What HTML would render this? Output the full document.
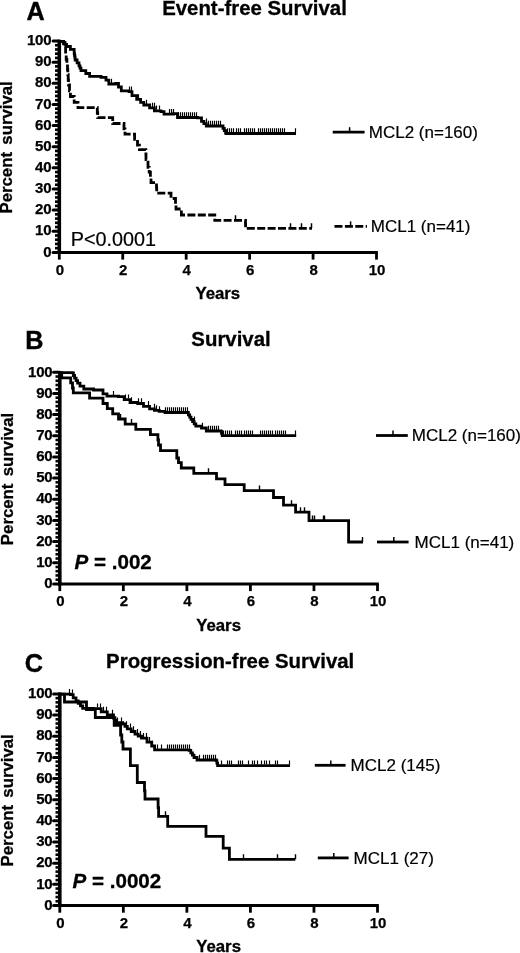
<!DOCTYPE html>
<html><head><meta charset="utf-8"><title>Survival curves</title>
<style>
html,body{margin:0;padding:0;background:#fff;}
body{width:520px;height:953px;overflow:hidden;}
svg{display:block;}
text{font-family:"Liberation Sans", Arial, Helvetica, sans-serif;fill:#000;}
.tk{font-size:15px;font-weight:bold;stroke:#000;stroke-width:0.25px;letter-spacing:-0.25px;}
.ttl{font-size:20.4px;font-weight:bold;stroke:#000;stroke-width:0.3px;}
.pl{font-size:25.2px;font-weight:bold;stroke:#000;stroke-width:0.4px;}
.ax{font-size:16.8px;font-weight:bold;stroke:#000;stroke-width:0.3px;}
.lg{font-size:17px;stroke:#000;stroke-width:0.2px;}
.pv{font-size:19.8px;stroke:#000;stroke-width:0.2px;}
.pvb{font-size:20.6px;font-weight:bold;stroke:#000;stroke-width:0.3px;}
</style></head><body>
<svg width="520" height="953" viewBox="0 0 520 953">
<rect width="520" height="953" fill="#fff"/>

<text x="26.6" y="20.3" class="pl">A</text>
<text x="254.5" y="14.9" text-anchor="middle" class="ttl">Event-free Survival</text>
<line x1="59.3" y1="39.7" x2="59.3" y2="253.9" stroke="#000" stroke-width="3.6"/>
<line x1="57.699999999999996" y1="252.4" x2="377.8" y2="252.4" stroke="#000" stroke-width="3"/>
<line x1="53.099999999999994" y1="252.40" x2="59.3" y2="252.40" stroke="#000" stroke-width="3" stroke-linecap="round"/>
<text x="51.30" y="256.60" text-anchor="end" class="tk">0</text>
<line x1="55.0" y1="248.17" x2="59.3" y2="248.17" stroke="#000" stroke-width="2.6"/>
<line x1="55.0" y1="243.94" x2="59.3" y2="243.94" stroke="#000" stroke-width="2.6"/>
<line x1="55.0" y1="239.72" x2="59.3" y2="239.72" stroke="#000" stroke-width="2.6"/>
<line x1="55.0" y1="235.49" x2="59.3" y2="235.49" stroke="#000" stroke-width="2.6"/>
<line x1="53.099999999999994" y1="231.26" x2="59.3" y2="231.26" stroke="#000" stroke-width="3" stroke-linecap="round"/>
<text x="51.30" y="235.46" text-anchor="end" class="tk">10</text>
<line x1="55.0" y1="227.03" x2="59.3" y2="227.03" stroke="#000" stroke-width="2.6"/>
<line x1="55.0" y1="222.80" x2="59.3" y2="222.80" stroke="#000" stroke-width="2.6"/>
<line x1="55.0" y1="218.58" x2="59.3" y2="218.58" stroke="#000" stroke-width="2.6"/>
<line x1="55.0" y1="214.35" x2="59.3" y2="214.35" stroke="#000" stroke-width="2.6"/>
<line x1="53.099999999999994" y1="210.12" x2="59.3" y2="210.12" stroke="#000" stroke-width="3" stroke-linecap="round"/>
<text x="51.30" y="214.32" text-anchor="end" class="tk">20</text>
<line x1="55.0" y1="205.89" x2="59.3" y2="205.89" stroke="#000" stroke-width="2.6"/>
<line x1="55.0" y1="201.66" x2="59.3" y2="201.66" stroke="#000" stroke-width="2.6"/>
<line x1="55.0" y1="197.44" x2="59.3" y2="197.44" stroke="#000" stroke-width="2.6"/>
<line x1="55.0" y1="193.21" x2="59.3" y2="193.21" stroke="#000" stroke-width="2.6"/>
<line x1="53.099999999999994" y1="188.98" x2="59.3" y2="188.98" stroke="#000" stroke-width="3" stroke-linecap="round"/>
<text x="51.30" y="193.18" text-anchor="end" class="tk">30</text>
<line x1="55.0" y1="184.75" x2="59.3" y2="184.75" stroke="#000" stroke-width="2.6"/>
<line x1="55.0" y1="180.52" x2="59.3" y2="180.52" stroke="#000" stroke-width="2.6"/>
<line x1="55.0" y1="176.30" x2="59.3" y2="176.30" stroke="#000" stroke-width="2.6"/>
<line x1="55.0" y1="172.07" x2="59.3" y2="172.07" stroke="#000" stroke-width="2.6"/>
<line x1="53.099999999999994" y1="167.84" x2="59.3" y2="167.84" stroke="#000" stroke-width="3" stroke-linecap="round"/>
<text x="51.30" y="172.04" text-anchor="end" class="tk">40</text>
<line x1="55.0" y1="163.61" x2="59.3" y2="163.61" stroke="#000" stroke-width="2.6"/>
<line x1="55.0" y1="159.38" x2="59.3" y2="159.38" stroke="#000" stroke-width="2.6"/>
<line x1="55.0" y1="155.16" x2="59.3" y2="155.16" stroke="#000" stroke-width="2.6"/>
<line x1="55.0" y1="150.93" x2="59.3" y2="150.93" stroke="#000" stroke-width="2.6"/>
<line x1="53.099999999999994" y1="146.70" x2="59.3" y2="146.70" stroke="#000" stroke-width="3" stroke-linecap="round"/>
<text x="51.30" y="150.90" text-anchor="end" class="tk">50</text>
<line x1="55.0" y1="142.47" x2="59.3" y2="142.47" stroke="#000" stroke-width="2.6"/>
<line x1="55.0" y1="138.24" x2="59.3" y2="138.24" stroke="#000" stroke-width="2.6"/>
<line x1="55.0" y1="134.02" x2="59.3" y2="134.02" stroke="#000" stroke-width="2.6"/>
<line x1="55.0" y1="129.79" x2="59.3" y2="129.79" stroke="#000" stroke-width="2.6"/>
<line x1="53.099999999999994" y1="125.56" x2="59.3" y2="125.56" stroke="#000" stroke-width="3" stroke-linecap="round"/>
<text x="51.30" y="129.76" text-anchor="end" class="tk">60</text>
<line x1="55.0" y1="121.33" x2="59.3" y2="121.33" stroke="#000" stroke-width="2.6"/>
<line x1="55.0" y1="117.10" x2="59.3" y2="117.10" stroke="#000" stroke-width="2.6"/>
<line x1="55.0" y1="112.88" x2="59.3" y2="112.88" stroke="#000" stroke-width="2.6"/>
<line x1="55.0" y1="108.65" x2="59.3" y2="108.65" stroke="#000" stroke-width="2.6"/>
<line x1="53.099999999999994" y1="104.42" x2="59.3" y2="104.42" stroke="#000" stroke-width="3" stroke-linecap="round"/>
<text x="51.30" y="108.62" text-anchor="end" class="tk">70</text>
<line x1="55.0" y1="100.19" x2="59.3" y2="100.19" stroke="#000" stroke-width="2.6"/>
<line x1="55.0" y1="95.96" x2="59.3" y2="95.96" stroke="#000" stroke-width="2.6"/>
<line x1="55.0" y1="91.74" x2="59.3" y2="91.74" stroke="#000" stroke-width="2.6"/>
<line x1="55.0" y1="87.51" x2="59.3" y2="87.51" stroke="#000" stroke-width="2.6"/>
<line x1="53.099999999999994" y1="83.28" x2="59.3" y2="83.28" stroke="#000" stroke-width="3" stroke-linecap="round"/>
<text x="51.30" y="87.48" text-anchor="end" class="tk">80</text>
<line x1="55.0" y1="79.05" x2="59.3" y2="79.05" stroke="#000" stroke-width="2.6"/>
<line x1="55.0" y1="74.82" x2="59.3" y2="74.82" stroke="#000" stroke-width="2.6"/>
<line x1="55.0" y1="70.60" x2="59.3" y2="70.60" stroke="#000" stroke-width="2.6"/>
<line x1="55.0" y1="66.37" x2="59.3" y2="66.37" stroke="#000" stroke-width="2.6"/>
<line x1="53.099999999999994" y1="62.14" x2="59.3" y2="62.14" stroke="#000" stroke-width="3" stroke-linecap="round"/>
<text x="51.30" y="66.34" text-anchor="end" class="tk">90</text>
<line x1="55.0" y1="57.91" x2="59.3" y2="57.91" stroke="#000" stroke-width="2.6"/>
<line x1="55.0" y1="53.68" x2="59.3" y2="53.68" stroke="#000" stroke-width="2.6"/>
<line x1="55.0" y1="49.46" x2="59.3" y2="49.46" stroke="#000" stroke-width="2.6"/>
<line x1="55.0" y1="45.23" x2="59.3" y2="45.23" stroke="#000" stroke-width="2.6"/>
<line x1="53.099999999999994" y1="41.00" x2="59.3" y2="41.00" stroke="#000" stroke-width="3" stroke-linecap="round"/>
<text x="51.30" y="45.20" text-anchor="end" class="tk">100</text>
<line x1="59.30" y1="252.4" x2="59.30" y2="259.6" stroke="#000" stroke-width="2.8"/>
<text x="59.70" y="274.70" text-anchor="middle" class="tk">0</text>
<line x1="122.74" y1="252.4" x2="122.74" y2="259.6" stroke="#000" stroke-width="2.8"/>
<text x="123.14" y="274.70" text-anchor="middle" class="tk">2</text>
<line x1="186.18" y1="252.4" x2="186.18" y2="259.6" stroke="#000" stroke-width="2.8"/>
<text x="186.58" y="274.70" text-anchor="middle" class="tk">4</text>
<line x1="249.62" y1="252.4" x2="249.62" y2="259.6" stroke="#000" stroke-width="2.8"/>
<text x="250.02" y="274.70" text-anchor="middle" class="tk">6</text>
<line x1="313.06" y1="252.4" x2="313.06" y2="259.6" stroke="#000" stroke-width="2.8"/>
<text x="313.46" y="274.70" text-anchor="middle" class="tk">8</text>
<line x1="376.50" y1="252.4" x2="376.50" y2="259.6" stroke="#000" stroke-width="2.8"/>
<text x="376.90" y="274.70" text-anchor="middle" class="tk">10</text>
<text transform="translate(12.4,147.4) rotate(-90)" text-anchor="middle" class="ax" style="word-spacing:2.6px">Percent survival</text>
<text x="217.8" y="298.8" text-anchor="middle" class="ax">Years</text>
<text x="70.8" y="245.6" class="pv">P&lt;0.0001</text>
<path d="M59.3 41.5 L63.6 41.5 L63.6 42.3 L65.0 42.3 L65.0 44.4 L66.5 44.4 L66.5 46.5 L70.4 46.5 L70.4 49.4 L74.2 49.4 L74.2 53.3 L74.5 53.3 L74.5 55.5 L74.9 55.5 L74.9 57.8 L75.2 57.8 L75.2 60.0 L77.1 60.0 L77.1 62.9 L79.0 62.9 L79.0 65.8 L80.0 65.8 L80.0 68.2 L81.0 68.2 L81.0 70.6 L85.8 70.6 L85.8 73.5 L89.6 73.5 L89.6 76.3 L101.0 76.3 L101.0 77.3 L106.0 77.3 L106.0 80.2 L108.8 80.2 L108.8 84.0 L115.6 84.0 L115.6 83.4 L118.5 83.4 L118.5 87.0 L121.3 87.0 L121.3 90.8 L129.0 90.8 L129.0 91.7 L132.0 91.7 L132.0 95.6 L136.7 95.6 L136.7 99.4 L140.6 99.4 L140.6 102.3 L143.8 102.3 L143.8 105.0 L149.6 105.0 L149.6 107.9 L154.4 107.9 L154.4 110.8 L161.0 110.8 L161.0 111.7 L164.0 111.7 L164.0 114.2 L173.7 114.2 L173.7 113.7 L177.5 113.7 L177.5 117.5 L197.7 117.5 L197.7 117.9 L201.5 117.9 L201.5 121.3 L203.9 121.3 L203.9 123.7 L206.3 123.7 L206.3 126.0 L221.7 126.0 L221.7 126.0 L223.0 126.0 L223.0 128.3 L224.3 128.3 L224.3 130.6 L225.6 130.6 L225.6 132.9 L226.0 132.9 L226.0 133.5 L296.0 133.5 L296.0 133.5" fill="none" stroke="#000" stroke-width="2.8" stroke-linejoin="miter"/>
<path d="M59.3 41.5 L63.6 41.5 L63.6 46.5 L65.6 46.5 L65.6 54.2 L66.2 54.2 L66.2 59.3 L66.9 59.3 L66.9 64.5 L67.5 64.5 L67.5 69.6 L67.8 69.6 L67.8 74.7 L68.2 74.7 L68.2 79.9 L68.5 79.9 L68.5 85.0 L69.5 85.0 L69.5 90.8 L70.4 90.8 L70.4 96.5 L74.2 96.5 L74.2 102.3 L78.0 102.3 L78.0 107.7 L97.0 107.7 L97.0 107.7 L97.3 107.7 L97.3 112.7 L97.7 112.7 L97.7 117.7 L111.7 117.7 L111.7 117.7 L112.7 117.7 L112.7 123.5 L121.3 123.5 L121.3 123.5 L124.0 123.5 L124.0 128.8 L125.0 128.8 L125.0 134.2 L133.7 134.2 L133.7 134.2 L134.6 134.2 L134.6 139.4 L137.5 139.4 L137.5 145.2 L139.4 145.2 L139.4 149.6 L145.8 149.6 L145.8 149.6 L145.9 149.6 L145.9 154.6 L146.0 154.6 L146.0 159.6 L148.0 159.6 L148.0 167.3 L149.2 167.3 L149.2 172.2 L150.4 172.2 L150.4 177.0 L151.0 177.0 L151.0 182.6 L156.3 182.6 L156.3 182.6 L156.5 182.6 L156.5 187.8 L156.7 187.8 L156.7 193.1 L170.2 193.1 L170.2 193.1 L171.0 193.1 L171.0 198.5 L175.0 198.5 L175.0 198.5 L175.5 198.5 L175.5 203.8 L176.0 203.8 L176.0 209.0 L180.8 209.0 L180.8 210.0 L181.4 210.0 L181.4 215.0 L214.4 215.0 L214.4 215.0 L214.8 215.0 L214.8 220.4 L245.4 220.4 L245.4 220.4 L245.5 220.4 L245.5 224.4 L245.6 224.4 L245.6 228.4 L312.0 228.4 L312.0 228.4" fill="none" stroke="#000" stroke-width="2.8" stroke-linejoin="miter" stroke-dasharray="8 2.4"/>
<path d="M111.5 83.0v-4.2M129.5 90.7v-4.2M131.5 90.7v-4.2M138.5 98.4v-4.2M146.5 104.0v-4.2M152.5 106.9v-4.2M154.5 106.9v-4.2M156.5 109.8v-4.2M159.5 109.8v-4.2M169.5 113.2v-4.2M171.5 113.2v-4.2M173.5 113.2v-4.2M178.5 116.5v-4.2M180.5 116.5v-4.2M182.5 116.5v-4.2M184.5 116.5v-4.2M186.5 116.5v-4.2M188.5 116.5v-4.2M190.5 116.5v-4.2M192.5 116.5v-4.2M194.5 116.5v-4.2M196.5 116.5v-4.2M206.5 122.7v-4.2M208.5 125.0v-4.2M210.5 125.0v-4.2M212.5 125.0v-4.2M214.5 125.0v-4.2M216.5 125.0v-4.2M218.5 125.0v-4.2M220.5 125.0v-4.2M227.5 132.5v-4.2M229.5 132.5v-4.2M231.5 132.5v-4.2M233.5 132.5v-4.2M236.5 132.5v-4.2M238.5 132.5v-4.2M240.5 132.5v-4.2M244.5 132.5v-4.2M246.5 132.5v-4.2M248.5 132.5v-4.2M250.5 132.5v-4.2M252.5 132.5v-4.2M254.5 132.5v-4.2M258.5 132.5v-4.2M260.5 132.5v-4.2M262.5 132.5v-4.2M264.5 132.5v-4.2M266.5 132.5v-4.2M268.5 132.5v-4.2M270.5 132.5v-4.2M272.5 132.5v-4.2M274.5 132.5v-4.2M276.5 132.5v-4.2M278.5 132.5v-4.2M280.5 132.5v-4.2M282.5 132.5v-4.2M284.5 132.5v-4.2M295.5 132.5v-4.2" fill="none" stroke="#000" stroke-width="1.15"/>
<path d="M235.5 220.0v-4.8M290.5 228.0v-4.8M301.5 228.0v-4.8M311.5 228.0v-4.8" fill="none" stroke="#000" stroke-width="1.5"/>
<line x1="332.7" y1="132.2" x2="364.6" y2="132.2" stroke="#000" stroke-width="2.8"/>
<line x1="349.6" y1="132.2" x2="349.6" y2="127.2" stroke="#000" stroke-width="1.5"/>
<text x="368.8" y="138.3" class="lg">MCL2 (n=160)</text>
<line x1="334.5" y1="226.3" x2="367" y2="226.3" stroke="#000" stroke-width="2.8" stroke-dasharray="8 2.4"/>
<line x1="350.6" y1="226.3" x2="350.6" y2="221.3" stroke="#000" stroke-width="1.5"/>
<text x="370.8" y="232" class="lg">MCL1 (n=41)</text>
<text x="25.2" y="348.8" class="pl">B</text>
<text x="231" y="345.7" text-anchor="middle" class="ttl">Survival</text>
<line x1="59.8" y1="371.0" x2="59.8" y2="585.4" stroke="#000" stroke-width="3.6"/>
<line x1="58.199999999999996" y1="583.9" x2="378.8" y2="583.9" stroke="#000" stroke-width="3"/>
<line x1="53.599999999999994" y1="583.90" x2="59.8" y2="583.90" stroke="#000" stroke-width="3" stroke-linecap="round"/>
<text x="52.40" y="588.10" text-anchor="end" class="tk">0</text>
<line x1="55.5" y1="579.67" x2="59.8" y2="579.67" stroke="#000" stroke-width="2.6"/>
<line x1="55.5" y1="575.44" x2="59.8" y2="575.44" stroke="#000" stroke-width="2.6"/>
<line x1="55.5" y1="571.20" x2="59.8" y2="571.20" stroke="#000" stroke-width="2.6"/>
<line x1="55.5" y1="566.97" x2="59.8" y2="566.97" stroke="#000" stroke-width="2.6"/>
<line x1="53.599999999999994" y1="562.74" x2="59.8" y2="562.74" stroke="#000" stroke-width="3" stroke-linecap="round"/>
<text x="52.40" y="566.94" text-anchor="end" class="tk">10</text>
<line x1="55.5" y1="558.51" x2="59.8" y2="558.51" stroke="#000" stroke-width="2.6"/>
<line x1="55.5" y1="554.28" x2="59.8" y2="554.28" stroke="#000" stroke-width="2.6"/>
<line x1="55.5" y1="550.04" x2="59.8" y2="550.04" stroke="#000" stroke-width="2.6"/>
<line x1="55.5" y1="545.81" x2="59.8" y2="545.81" stroke="#000" stroke-width="2.6"/>
<line x1="53.599999999999994" y1="541.58" x2="59.8" y2="541.58" stroke="#000" stroke-width="3" stroke-linecap="round"/>
<text x="52.40" y="545.78" text-anchor="end" class="tk">20</text>
<line x1="55.5" y1="537.35" x2="59.8" y2="537.35" stroke="#000" stroke-width="2.6"/>
<line x1="55.5" y1="533.12" x2="59.8" y2="533.12" stroke="#000" stroke-width="2.6"/>
<line x1="55.5" y1="528.88" x2="59.8" y2="528.88" stroke="#000" stroke-width="2.6"/>
<line x1="55.5" y1="524.65" x2="59.8" y2="524.65" stroke="#000" stroke-width="2.6"/>
<line x1="53.599999999999994" y1="520.42" x2="59.8" y2="520.42" stroke="#000" stroke-width="3" stroke-linecap="round"/>
<text x="52.40" y="524.62" text-anchor="end" class="tk">30</text>
<line x1="55.5" y1="516.19" x2="59.8" y2="516.19" stroke="#000" stroke-width="2.6"/>
<line x1="55.5" y1="511.96" x2="59.8" y2="511.96" stroke="#000" stroke-width="2.6"/>
<line x1="55.5" y1="507.72" x2="59.8" y2="507.72" stroke="#000" stroke-width="2.6"/>
<line x1="55.5" y1="503.49" x2="59.8" y2="503.49" stroke="#000" stroke-width="2.6"/>
<line x1="53.599999999999994" y1="499.26" x2="59.8" y2="499.26" stroke="#000" stroke-width="3" stroke-linecap="round"/>
<text x="52.40" y="503.46" text-anchor="end" class="tk">40</text>
<line x1="55.5" y1="495.03" x2="59.8" y2="495.03" stroke="#000" stroke-width="2.6"/>
<line x1="55.5" y1="490.80" x2="59.8" y2="490.80" stroke="#000" stroke-width="2.6"/>
<line x1="55.5" y1="486.56" x2="59.8" y2="486.56" stroke="#000" stroke-width="2.6"/>
<line x1="55.5" y1="482.33" x2="59.8" y2="482.33" stroke="#000" stroke-width="2.6"/>
<line x1="53.599999999999994" y1="478.10" x2="59.8" y2="478.10" stroke="#000" stroke-width="3" stroke-linecap="round"/>
<text x="52.40" y="482.30" text-anchor="end" class="tk">50</text>
<line x1="55.5" y1="473.87" x2="59.8" y2="473.87" stroke="#000" stroke-width="2.6"/>
<line x1="55.5" y1="469.64" x2="59.8" y2="469.64" stroke="#000" stroke-width="2.6"/>
<line x1="55.5" y1="465.40" x2="59.8" y2="465.40" stroke="#000" stroke-width="2.6"/>
<line x1="55.5" y1="461.17" x2="59.8" y2="461.17" stroke="#000" stroke-width="2.6"/>
<line x1="53.599999999999994" y1="456.94" x2="59.8" y2="456.94" stroke="#000" stroke-width="3" stroke-linecap="round"/>
<text x="52.40" y="461.14" text-anchor="end" class="tk">60</text>
<line x1="55.5" y1="452.71" x2="59.8" y2="452.71" stroke="#000" stroke-width="2.6"/>
<line x1="55.5" y1="448.48" x2="59.8" y2="448.48" stroke="#000" stroke-width="2.6"/>
<line x1="55.5" y1="444.24" x2="59.8" y2="444.24" stroke="#000" stroke-width="2.6"/>
<line x1="55.5" y1="440.01" x2="59.8" y2="440.01" stroke="#000" stroke-width="2.6"/>
<line x1="53.599999999999994" y1="435.78" x2="59.8" y2="435.78" stroke="#000" stroke-width="3" stroke-linecap="round"/>
<text x="52.40" y="439.98" text-anchor="end" class="tk">70</text>
<line x1="55.5" y1="431.55" x2="59.8" y2="431.55" stroke="#000" stroke-width="2.6"/>
<line x1="55.5" y1="427.32" x2="59.8" y2="427.32" stroke="#000" stroke-width="2.6"/>
<line x1="55.5" y1="423.08" x2="59.8" y2="423.08" stroke="#000" stroke-width="2.6"/>
<line x1="55.5" y1="418.85" x2="59.8" y2="418.85" stroke="#000" stroke-width="2.6"/>
<line x1="53.599999999999994" y1="414.62" x2="59.8" y2="414.62" stroke="#000" stroke-width="3" stroke-linecap="round"/>
<text x="52.40" y="418.82" text-anchor="end" class="tk">80</text>
<line x1="55.5" y1="410.39" x2="59.8" y2="410.39" stroke="#000" stroke-width="2.6"/>
<line x1="55.5" y1="406.16" x2="59.8" y2="406.16" stroke="#000" stroke-width="2.6"/>
<line x1="55.5" y1="401.92" x2="59.8" y2="401.92" stroke="#000" stroke-width="2.6"/>
<line x1="55.5" y1="397.69" x2="59.8" y2="397.69" stroke="#000" stroke-width="2.6"/>
<line x1="53.599999999999994" y1="393.46" x2="59.8" y2="393.46" stroke="#000" stroke-width="3" stroke-linecap="round"/>
<text x="52.40" y="397.66" text-anchor="end" class="tk">90</text>
<line x1="55.5" y1="389.23" x2="59.8" y2="389.23" stroke="#000" stroke-width="2.6"/>
<line x1="55.5" y1="385.00" x2="59.8" y2="385.00" stroke="#000" stroke-width="2.6"/>
<line x1="55.5" y1="380.76" x2="59.8" y2="380.76" stroke="#000" stroke-width="2.6"/>
<line x1="55.5" y1="376.53" x2="59.8" y2="376.53" stroke="#000" stroke-width="2.6"/>
<line x1="53.599999999999994" y1="372.30" x2="59.8" y2="372.30" stroke="#000" stroke-width="3" stroke-linecap="round"/>
<text x="52.40" y="376.50" text-anchor="end" class="tk">100</text>
<line x1="59.80" y1="583.9" x2="59.80" y2="591.1" stroke="#000" stroke-width="2.8"/>
<text x="60.20" y="606.20" text-anchor="middle" class="tk">0</text>
<line x1="123.34" y1="583.9" x2="123.34" y2="591.1" stroke="#000" stroke-width="2.8"/>
<text x="123.74" y="606.20" text-anchor="middle" class="tk">2</text>
<line x1="186.88" y1="583.9" x2="186.88" y2="591.1" stroke="#000" stroke-width="2.8"/>
<text x="187.28" y="606.20" text-anchor="middle" class="tk">4</text>
<line x1="250.42" y1="583.9" x2="250.42" y2="591.1" stroke="#000" stroke-width="2.8"/>
<text x="250.82" y="606.20" text-anchor="middle" class="tk">6</text>
<line x1="313.96" y1="583.9" x2="313.96" y2="591.1" stroke="#000" stroke-width="2.8"/>
<text x="314.36" y="606.20" text-anchor="middle" class="tk">8</text>
<line x1="377.50" y1="583.9" x2="377.50" y2="591.1" stroke="#000" stroke-width="2.8"/>
<text x="377.90" y="606.20" text-anchor="middle" class="tk">10</text>
<text transform="translate(12.8,479.0) rotate(-90)" text-anchor="middle" class="ax" style="word-spacing:2.6px">Percent survival</text>
<text x="218.6" y="630.8" text-anchor="middle" class="ax">Years</text>
<text x="74.5" y="569.2" class="pvb"><tspan font-style="italic">P</tspan> = .002</text>
<path d="M59.3 372.7 L72.3 372.7 L72.3 372.9 L73.4 372.9 L73.4 375.5 L74.6 375.5 L74.6 378.2 L76.1 378.2 L76.1 380.7 L77.6 380.7 L77.6 383.2 L80.0 383.2 L80.0 386.2 L83.8 386.2 L83.8 389.0 L93.5 389.0 L93.5 390.0 L103.0 390.0 L103.0 393.8 L107.0 393.8 L107.0 396.2 L118.5 396.2 L118.5 396.7 L124.2 396.7 L124.2 399.6 L130.0 399.6 L130.0 402.5 L137.7 402.5 L137.7 403.5 L143.5 403.5 L143.5 406.3 L149.6 406.3 L149.6 408.9 L154.4 408.9 L154.4 410.4 L159.2 410.4 L159.2 411.4 L165.0 411.4 L165.0 412.5 L187.1 412.5 L187.1 412.5 L188.4 412.5 L188.4 414.8 L189.7 414.8 L189.7 417.1 L191.0 417.1 L191.0 419.4 L192.6 419.4 L192.6 421.7 L194.2 421.7 L194.2 423.9 L195.8 423.9 L195.8 426.2 L201.5 426.2 L201.5 428.0 L206.3 428.0 L206.3 431.0 L220.8 431.0 L220.8 431.2 L221.5 431.2 L221.5 433.4 L222.2 433.4 L222.2 435.7 L296.2 435.7 L296.2 435.7" fill="none" stroke="#000" stroke-width="2.8" stroke-linejoin="miter"/>
<path d="M59.3 372.9 L61.7 372.9 L61.7 372.9 L61.7 377.8 L68.8 377.8 L68.8 377.8 L70.7 377.8 L70.7 382.9 L72.5 382.9 L72.5 388.0 L73.3 388.0 L73.3 392.9 L89.6 392.9 L89.6 392.9 L89.6 398.2 L103.0 398.2 L103.0 398.2 L103.0 403.5 L107.3 403.5 L107.3 403.5 L107.3 408.7 L112.7 408.7 L112.7 408.7 L112.7 413.9 L118.5 413.9 L118.5 413.9 L118.5 419.0 L125.2 419.0 L125.2 419.0 L125.2 424.1 L135.8 424.1 L135.8 424.1 L135.8 429.3 L150.4 429.3 L150.4 429.3 L150.4 434.6 L157.3 434.6 L157.3 434.6 L157.9 434.6 L157.9 439.8 L158.5 439.8 L158.5 445.0 L160.5 445.0 L160.5 450.6 L175.6 450.6 L175.6 450.6 L176.8 450.6 L176.8 458.0 L178.5 458.0 L178.5 462.6 L181.3 462.6 L181.3 462.6 L181.3 468.0 L193.8 468.0 L193.8 468.0 L193.8 473.3 L216.5 473.3 L216.5 473.3 L216.5 478.8 L225.0 478.8 L225.0 478.8 L225.0 484.6 L244.2 484.6 L244.2 484.6 L244.2 490.6 L273.5 490.6 L273.5 490.6 L273.5 497.5 L283.5 497.5 L283.5 497.5 L283.5 505.2 L295.6 505.2 L295.6 505.2 L295.6 512.2 L309.0 512.2 L309.0 512.2 L309.0 520.6 L348.6 520.6 L348.6 520.6 L348.6 542.0 L363.0 542.0 L363.0 542.0" fill="none" stroke="#000" stroke-width="2.8" stroke-linejoin="miter"/>
<path d="M113.5 395.2v-4.2M125.5 398.6v-4.2M128.5 398.6v-4.2M131.5 401.5v-4.2M138.5 402.5v-4.2M141.5 402.5v-4.2M148.5 405.3v-4.2M154.5 407.9v-4.2M156.5 409.4v-4.2M159.5 410.4v-4.2M165.5 411.5v-4.2M167.5 411.5v-4.2M169.5 411.5v-4.2M171.5 411.5v-4.2M173.5 411.5v-4.2M175.5 411.5v-4.2M177.5 411.5v-4.2M179.5 411.5v-4.2M181.5 411.5v-4.2M183.5 411.5v-4.2M185.5 411.5v-4.2M187.5 411.5v-4.2M194.5 420.7v-4.2M202.5 427.0v-4.2M208.5 430.0v-4.2M210.5 430.0v-4.2M212.5 430.0v-4.2M214.5 430.0v-4.2M216.5 430.0v-4.2M218.5 430.0v-4.2M223.5 434.7v-4.2M225.5 434.7v-4.2M227.5 434.7v-4.2M229.5 434.7v-4.2M231.5 434.7v-4.2M235.5 434.7v-4.2M237.5 434.7v-4.2M239.5 434.7v-4.2M241.5 434.7v-4.2M244.5 434.7v-4.2M246.5 434.7v-4.2M248.5 434.7v-4.2M250.5 434.7v-4.2M252.5 434.7v-4.2M260.5 434.7v-4.2M262.5 434.7v-4.2M264.5 434.7v-4.2M266.5 434.7v-4.2M268.5 434.7v-4.2M270.5 434.7v-4.2M272.5 434.7v-4.2M275.5 434.7v-4.2M277.5 434.7v-4.2M279.5 434.7v-4.2M281.5 434.7v-4.2M283.5 434.7v-4.2M285.5 434.7v-4.2M295.5 434.7v-4.2" fill="none" stroke="#000" stroke-width="1.15"/>
<path d="M120.5 419.0v-5M131.5 424.1v-5M208.5 473.3v-5M259.5 490.6v-5M291.5 505.2v-5M300.5 512.2v-5M304.5 512.2v-5M312.5 520.6v-5M314.5 520.6v-5M323.5 520.6v-5M324.5 520.6v-5M362.5 542.0v-5" fill="none" stroke="#000" stroke-width="1.4"/>
<line x1="376" y1="435.5" x2="407.8" y2="435.5" stroke="#000" stroke-width="2.8"/>
<line x1="393" y1="435.5" x2="393" y2="430.6" stroke="#000" stroke-width="1.5"/>
<text x="411.8" y="441.2" class="lg">MCL2 (n=160)</text>
<line x1="377" y1="542" x2="408.6" y2="542" stroke="#000" stroke-width="2.8"/>
<line x1="393.8" y1="542" x2="393.8" y2="537" stroke="#000" stroke-width="1.5"/>
<text x="414.6" y="547.8" class="lg">MCL1 (n=41)</text>
<text x="24.8" y="671.6" class="pl">C</text>
<text x="230.2" y="668.1" text-anchor="middle" class="ttl">Progression-free Survival</text>
<line x1="59.8" y1="692.6" x2="59.8" y2="907.0" stroke="#000" stroke-width="3.6"/>
<line x1="58.199999999999996" y1="905.5" x2="378.8" y2="905.5" stroke="#000" stroke-width="3"/>
<line x1="53.599999999999994" y1="905.50" x2="59.8" y2="905.50" stroke="#000" stroke-width="3" stroke-linecap="round"/>
<text x="52.40" y="909.70" text-anchor="end" class="tk">0</text>
<line x1="55.5" y1="901.27" x2="59.8" y2="901.27" stroke="#000" stroke-width="2.6"/>
<line x1="55.5" y1="897.04" x2="59.8" y2="897.04" stroke="#000" stroke-width="2.6"/>
<line x1="55.5" y1="892.80" x2="59.8" y2="892.80" stroke="#000" stroke-width="2.6"/>
<line x1="55.5" y1="888.57" x2="59.8" y2="888.57" stroke="#000" stroke-width="2.6"/>
<line x1="53.599999999999994" y1="884.34" x2="59.8" y2="884.34" stroke="#000" stroke-width="3" stroke-linecap="round"/>
<text x="52.40" y="888.54" text-anchor="end" class="tk">10</text>
<line x1="55.5" y1="880.11" x2="59.8" y2="880.11" stroke="#000" stroke-width="2.6"/>
<line x1="55.5" y1="875.88" x2="59.8" y2="875.88" stroke="#000" stroke-width="2.6"/>
<line x1="55.5" y1="871.64" x2="59.8" y2="871.64" stroke="#000" stroke-width="2.6"/>
<line x1="55.5" y1="867.41" x2="59.8" y2="867.41" stroke="#000" stroke-width="2.6"/>
<line x1="53.599999999999994" y1="863.18" x2="59.8" y2="863.18" stroke="#000" stroke-width="3" stroke-linecap="round"/>
<text x="52.40" y="867.38" text-anchor="end" class="tk">20</text>
<line x1="55.5" y1="858.95" x2="59.8" y2="858.95" stroke="#000" stroke-width="2.6"/>
<line x1="55.5" y1="854.72" x2="59.8" y2="854.72" stroke="#000" stroke-width="2.6"/>
<line x1="55.5" y1="850.48" x2="59.8" y2="850.48" stroke="#000" stroke-width="2.6"/>
<line x1="55.5" y1="846.25" x2="59.8" y2="846.25" stroke="#000" stroke-width="2.6"/>
<line x1="53.599999999999994" y1="842.02" x2="59.8" y2="842.02" stroke="#000" stroke-width="3" stroke-linecap="round"/>
<text x="52.40" y="846.22" text-anchor="end" class="tk">30</text>
<line x1="55.5" y1="837.79" x2="59.8" y2="837.79" stroke="#000" stroke-width="2.6"/>
<line x1="55.5" y1="833.56" x2="59.8" y2="833.56" stroke="#000" stroke-width="2.6"/>
<line x1="55.5" y1="829.32" x2="59.8" y2="829.32" stroke="#000" stroke-width="2.6"/>
<line x1="55.5" y1="825.09" x2="59.8" y2="825.09" stroke="#000" stroke-width="2.6"/>
<line x1="53.599999999999994" y1="820.86" x2="59.8" y2="820.86" stroke="#000" stroke-width="3" stroke-linecap="round"/>
<text x="52.40" y="825.06" text-anchor="end" class="tk">40</text>
<line x1="55.5" y1="816.63" x2="59.8" y2="816.63" stroke="#000" stroke-width="2.6"/>
<line x1="55.5" y1="812.40" x2="59.8" y2="812.40" stroke="#000" stroke-width="2.6"/>
<line x1="55.5" y1="808.16" x2="59.8" y2="808.16" stroke="#000" stroke-width="2.6"/>
<line x1="55.5" y1="803.93" x2="59.8" y2="803.93" stroke="#000" stroke-width="2.6"/>
<line x1="53.599999999999994" y1="799.70" x2="59.8" y2="799.70" stroke="#000" stroke-width="3" stroke-linecap="round"/>
<text x="52.40" y="803.90" text-anchor="end" class="tk">50</text>
<line x1="55.5" y1="795.47" x2="59.8" y2="795.47" stroke="#000" stroke-width="2.6"/>
<line x1="55.5" y1="791.24" x2="59.8" y2="791.24" stroke="#000" stroke-width="2.6"/>
<line x1="55.5" y1="787.00" x2="59.8" y2="787.00" stroke="#000" stroke-width="2.6"/>
<line x1="55.5" y1="782.77" x2="59.8" y2="782.77" stroke="#000" stroke-width="2.6"/>
<line x1="53.599999999999994" y1="778.54" x2="59.8" y2="778.54" stroke="#000" stroke-width="3" stroke-linecap="round"/>
<text x="52.40" y="782.74" text-anchor="end" class="tk">60</text>
<line x1="55.5" y1="774.31" x2="59.8" y2="774.31" stroke="#000" stroke-width="2.6"/>
<line x1="55.5" y1="770.08" x2="59.8" y2="770.08" stroke="#000" stroke-width="2.6"/>
<line x1="55.5" y1="765.84" x2="59.8" y2="765.84" stroke="#000" stroke-width="2.6"/>
<line x1="55.5" y1="761.61" x2="59.8" y2="761.61" stroke="#000" stroke-width="2.6"/>
<line x1="53.599999999999994" y1="757.38" x2="59.8" y2="757.38" stroke="#000" stroke-width="3" stroke-linecap="round"/>
<text x="52.40" y="761.58" text-anchor="end" class="tk">70</text>
<line x1="55.5" y1="753.15" x2="59.8" y2="753.15" stroke="#000" stroke-width="2.6"/>
<line x1="55.5" y1="748.92" x2="59.8" y2="748.92" stroke="#000" stroke-width="2.6"/>
<line x1="55.5" y1="744.68" x2="59.8" y2="744.68" stroke="#000" stroke-width="2.6"/>
<line x1="55.5" y1="740.45" x2="59.8" y2="740.45" stroke="#000" stroke-width="2.6"/>
<line x1="53.599999999999994" y1="736.22" x2="59.8" y2="736.22" stroke="#000" stroke-width="3" stroke-linecap="round"/>
<text x="52.40" y="740.42" text-anchor="end" class="tk">80</text>
<line x1="55.5" y1="731.99" x2="59.8" y2="731.99" stroke="#000" stroke-width="2.6"/>
<line x1="55.5" y1="727.76" x2="59.8" y2="727.76" stroke="#000" stroke-width="2.6"/>
<line x1="55.5" y1="723.52" x2="59.8" y2="723.52" stroke="#000" stroke-width="2.6"/>
<line x1="55.5" y1="719.29" x2="59.8" y2="719.29" stroke="#000" stroke-width="2.6"/>
<line x1="53.599999999999994" y1="715.06" x2="59.8" y2="715.06" stroke="#000" stroke-width="3" stroke-linecap="round"/>
<text x="52.40" y="719.26" text-anchor="end" class="tk">90</text>
<line x1="55.5" y1="710.83" x2="59.8" y2="710.83" stroke="#000" stroke-width="2.6"/>
<line x1="55.5" y1="706.60" x2="59.8" y2="706.60" stroke="#000" stroke-width="2.6"/>
<line x1="55.5" y1="702.36" x2="59.8" y2="702.36" stroke="#000" stroke-width="2.6"/>
<line x1="55.5" y1="698.13" x2="59.8" y2="698.13" stroke="#000" stroke-width="2.6"/>
<line x1="53.599999999999994" y1="693.90" x2="59.8" y2="693.90" stroke="#000" stroke-width="3" stroke-linecap="round"/>
<text x="52.40" y="698.10" text-anchor="end" class="tk">100</text>
<line x1="59.80" y1="905.5" x2="59.80" y2="912.7" stroke="#000" stroke-width="2.8"/>
<text x="60.20" y="927.80" text-anchor="middle" class="tk">0</text>
<line x1="123.34" y1="905.5" x2="123.34" y2="912.7" stroke="#000" stroke-width="2.8"/>
<text x="123.74" y="927.80" text-anchor="middle" class="tk">2</text>
<line x1="186.88" y1="905.5" x2="186.88" y2="912.7" stroke="#000" stroke-width="2.8"/>
<text x="187.28" y="927.80" text-anchor="middle" class="tk">4</text>
<line x1="250.42" y1="905.5" x2="250.42" y2="912.7" stroke="#000" stroke-width="2.8"/>
<text x="250.82" y="927.80" text-anchor="middle" class="tk">6</text>
<line x1="313.96" y1="905.5" x2="313.96" y2="912.7" stroke="#000" stroke-width="2.8"/>
<text x="314.36" y="927.80" text-anchor="middle" class="tk">8</text>
<line x1="377.50" y1="905.5" x2="377.50" y2="912.7" stroke="#000" stroke-width="2.8"/>
<text x="377.90" y="927.80" text-anchor="middle" class="tk">10</text>
<text transform="translate(12.8,800.4) rotate(-90)" text-anchor="middle" class="ax" style="word-spacing:2.6px">Percent survival</text>
<text x="218.6" y="952.3" text-anchor="middle" class="ax">Years</text>
<text x="72.5" y="888" class="pvb"><tspan font-style="italic">P</tspan> = .0002</text>
<path d="M59.3 694.2 L70.4 694.2 L70.4 694.6 L73.2 694.6 L73.2 697.8 L76.0 697.8 L76.0 701.0 L78.2 701.0 L78.2 703.4 L80.5 703.4 L80.5 705.9 L82.7 705.9 L82.7 708.3 L93.5 708.3 L93.5 708.6 L101.2 708.6 L101.2 711.9 L107.3 711.9 L107.3 715.0 L113.5 715.0 L113.5 718.0 L115.0 718.0 L115.0 720.4 L116.5 720.4 L116.5 722.7 L122.7 722.7 L122.7 724.0 L125.0 724.0 L125.0 726.4 L127.3 726.4 L127.3 728.8 L131.2 728.8 L131.2 731.5 L135.0 731.5 L135.0 734.2 L138.2 734.2 L138.2 736.2 L141.5 736.2 L141.5 738.2 L147.0 738.2 L147.0 742.1 L151.7 742.1 L151.7 746.0 L154.6 746.0 L154.6 749.8 L189.2 749.8 L189.2 750.4 L190.8 750.4 L190.8 752.8 L192.4 752.8 L192.4 755.1 L194.0 755.1 L194.0 757.5 L197.0 757.5 L197.0 760.0 L216.2 760.0 L216.2 760.6 L216.9 760.6 L216.9 763.1 L217.6 763.1 L217.6 765.6 L290.0 765.6 L290.0 765.6" fill="none" stroke="#000" stroke-width="2.8" stroke-linejoin="miter"/>
<path d="M59.3 694.2 L64.5 694.2 L64.5 694.2 L64.5 702.0 L86.5 702.0 L86.5 702.0 L86.5 709.6 L95.3 709.6 L95.3 709.6 L95.3 717.5 L114.2 717.5 L114.2 717.5 L114.2 725.3 L118.8 725.3 L118.8 725.3 L120.6 725.3 L120.6 735.0 L121.8 735.0 L121.8 742.0 L123.0 742.0 L123.0 749.0 L130.4 749.0 L130.4 749.0 L130.4 765.6 L137.3 765.6 L137.3 765.6 L137.3 782.5 L144.0 782.5 L144.0 782.5 L144.5 782.5 L144.5 790.8 L145.0 790.8 L145.0 799.0 L157.6 799.0 L157.6 799.0 L158.1 799.0 L158.1 807.6 L158.6 807.6 L158.6 816.3 L167.7 816.3 L167.7 816.3 L167.7 826.4 L206.0 826.4 L206.0 826.4 L206.0 836.4 L223.2 836.4 L223.2 836.4 L223.2 848.2 L229.4 848.2 L229.4 848.2 L229.4 859.3 L295.3 859.3 L295.3 859.3" fill="none" stroke="#000" stroke-width="2.8" stroke-linejoin="miter"/>
<path d="M69.5 693.2v-4.2M72.5 693.6v-4.2M97.5 707.6v-4.2M100.5 707.6v-4.2M103.5 710.9v-4.2M106.5 710.9v-4.2M112.5 714.0v-4.2M117.5 721.7v-4.2M121.5 721.7v-4.2M126.5 725.4v-4.2M130.5 727.8v-4.2M133.5 730.5v-4.2M137.5 733.2v-4.2M140.5 735.2v-4.2M143.5 737.2v-4.2M146.5 737.2v-4.2M149.5 741.1v-4.2M152.5 745.0v-4.2M157.5 748.8v-4.2M161.5 748.8v-4.2M167.5 748.8v-4.2M169.5 748.8v-4.2M171.5 748.8v-4.2M173.5 748.8v-4.2M175.5 748.8v-4.2M177.5 748.8v-4.2M179.5 748.8v-4.2M181.5 748.8v-4.2M183.5 748.8v-4.2M185.5 748.8v-4.2M187.5 748.8v-4.2M189.5 748.8v-4.2M199.5 759.0v-4.2M203.5 759.0v-4.2M205.5 759.0v-4.2M207.5 759.0v-4.2M209.5 759.0v-4.2M211.5 759.0v-4.2M213.5 759.0v-4.2M215.5 759.0v-4.2M221.5 764.6v-4.2M227.5 764.6v-4.2M229.5 764.6v-4.2M231.5 764.6v-4.2M238.5 764.6v-4.2M240.5 764.6v-4.2M242.5 764.6v-4.2M248.5 764.6v-4.2M252.5 764.6v-4.2M254.5 764.6v-4.2M257.5 764.6v-4.2M261.5 764.6v-4.2M264.5 764.6v-4.2M266.5 764.6v-4.2M269.5 764.6v-4.2M275.5 764.6v-4.2M277.5 764.6v-4.2M289.5 764.6v-4.2" fill="none" stroke="#000" stroke-width="1.15"/>
<path d="M165.5 816.3v-5M243.5 859.3v-5M277.5 859.3v-5M295.5 859.3v-5" fill="none" stroke="#000" stroke-width="1.4"/>
<line x1="314.8" y1="765.3" x2="345.6" y2="765.3" stroke="#000" stroke-width="2.8"/>
<line x1="330.8" y1="765.3" x2="330.8" y2="760.4" stroke="#000" stroke-width="1.5"/>
<text x="350.6" y="771.4" class="lg">MCL2 (145)</text>
<line x1="317.8" y1="857.9" x2="348.6" y2="857.9" stroke="#000" stroke-width="2.8"/>
<line x1="333.8" y1="857.9" x2="333.8" y2="853" stroke="#000" stroke-width="1.5"/>
<text x="353.6" y="863.7" class="lg">MCL1 (27)</text>
</svg></body></html>
